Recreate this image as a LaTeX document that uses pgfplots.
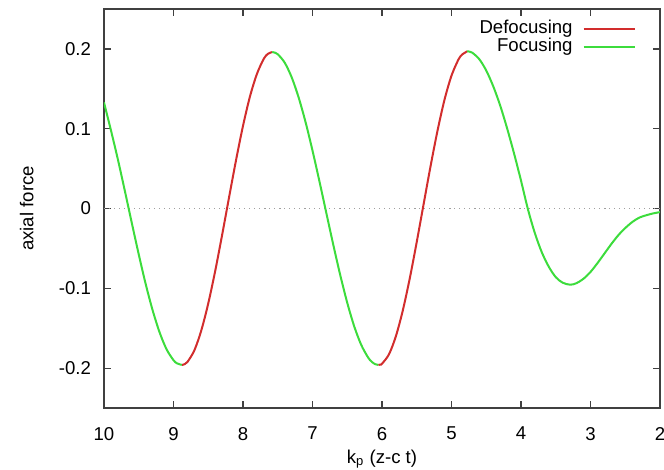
\documentclass[border=0pt]{standalone}
\usepackage{fontspec}
\setmainfont{Liberation Sans}
\usepackage{pgfplots}
\pgfplotsset{compat=1.18}

\definecolor{defoc}{RGB}{210,45,45}
\definecolor{foc}{RGB}{60,220,60}

\begin{document}
\begin{tikzpicture}
\begin{axis}[
    scale only axis,
    width=278pt, height=199.5pt,
    x dir=reverse,
    xmin=2, xmax=10,
    ymin=-0.25, ymax=0.25,
    xtick={2,3,4,5,6,7,8,9,10},
    xticklabels={2,3,4,5,6,7,8,9,10},
    ytick={-0.2,-0.1,0,0.1,0.2},
    yticklabels={-0.2,-0.1,0,0.1,0.2},
    /pgf/number format/assume math mode=true,
    font=\fontsize{9.3pt}{11pt}\selectfont,
    axis line style={black!75, line width=0.6pt},
    tick style={black!75, line width=0.6pt},
    major tick length=3.5pt,
    xticklabel style={yshift=-6pt},
    yticklabel style={xshift=-3pt},
    xlabel={k\textsubscript{p} (z-c t)},
    ylabel={axial force},
    every axis x label/.style={at={(axis description cs:0.5,-0.128)}, anchor=center},
    every axis y label/.style={at={(axis description cs:-0.139,0.5)}, anchor=center, rotate=90},
    legend plot pos=right,
    legend cell align=right,
    legend style={draw=none, fill=none, at={(axis description cs:1,1)}, anchor=north east,
        xshift=-9pt, yshift=-2pt, row sep=-2.3pt, nodes={inner sep=1.5pt},
        font=\fontsize{9.3pt}{11pt}\selectfont},
    legend image code/.code={\path (0pt,0pt); \draw[#1] (3.5pt,0pt) -- (29pt,0pt);},
    smooth, tension=0.5,
]
\coordinate (sw) at (rel axis cs:0,0);
\coordinate (ne) at (rel axis cs:1,1);

\addplot[gray!75, dotted, line width=0.5pt, forget plot] coordinates {(2,0) (10,0)};

% defocusing, first segment
\addplot[defoc, line width=1pt] coordinates {
(8.88,-0.196) (8.84,-0.1951) (8.8,-0.1924) (8.7,-0.1778) (8.6,-0.1528) (8.5,-0.1190) (8.4,-0.0783)
(8.3,-0.0330) (8.2,0.0142) (8.1,0.0606) (8.0,0.1035) (7.9,0.1403) (7.8,0.1685)
(7.7,0.1878) (7.64,0.1939) (7.58,0.196)};
\addlegendentry{Defocusing}

% focusing, first segment
\addplot[foc, line width=1pt] coordinates {
(10,0.133) (9.9,0.098) (9.8,0.0614) (9.7,0.0221) (9.6,-0.0181) (9.5,-0.0575)
(9.4,-0.0947) (9.3,-0.1276) (9.2,-0.1552) (9.1,-0.1764) (9.0,-0.1901) (8.95,-0.194) (8.88,-0.196)};
\addlegendentry{Focusing}

\addplot[foc, line width=1pt, forget plot] coordinates {
(7.58,0.196) (7.54,0.1953) (7.5,0.1934) (7.4,0.1828) (7.3,0.1645) (7.2,0.1393) (7.1,0.1083)
(7.0,0.0726) (6.9,0.0340) (6.8,-0.0060) (6.7,-0.0458) (6.6,-0.0837) (6.5,-0.1181)
(6.4,-0.1476) (6.3,-0.1707) (6.2,-0.1867) (6.15,-0.1919) (6.1,-0.1950) (6.05,-0.196)};

\addplot[defoc, line width=1pt, forget plot] coordinates {
(6.05,-0.196) (6.02,-0.1955) (6.0,-0.1945) (5.9,-0.1828) (5.8,-0.1600) (5.7,-0.1275) (5.6,-0.0874)
(5.5,-0.0419) (5.4,0.0060) (5.3,0.0536) (5.2,0.098) (5.1,0.1365) (5.0,0.1665)
(4.9,0.1867) (4.85,0.1927) (4.8,0.1956) (4.775,0.197)};

\addplot[foc, line width=1pt, forget plot] coordinates {
(4.775,0.197) (4.74,0.1966) (4.7,0.1952) (4.6,0.1871) (4.5,0.1729) (4.4,0.1533) (4.3,0.1292)
(4.2,0.1005) (4.1,0.069) (4.0,0.035) (3.9,-0.001) (3.8,-0.031) (3.7,-0.055)
(3.6,-0.073) (3.5,-0.086) (3.4,-0.093) (3.29,-0.0955) (3.2,-0.0935) (3.1,-0.088)
(3.0,-0.0795) (2.9,-0.0685) (2.8,-0.0565) (2.7,-0.0445) (2.6,-0.0335) (2.5,-0.0245)
(2.4,-0.017) (2.3,-0.0115) (2.2,-0.0085) (2.1,-0.0062) (2.0,-0.0045)};
\end{axis}
\pgfresetboundingbox
\path ([xshift=-52pt,yshift=-30.5pt]sw) rectangle ([xshift=2pt,yshift=4.5pt]ne);
\end{tikzpicture}
\end{document}
